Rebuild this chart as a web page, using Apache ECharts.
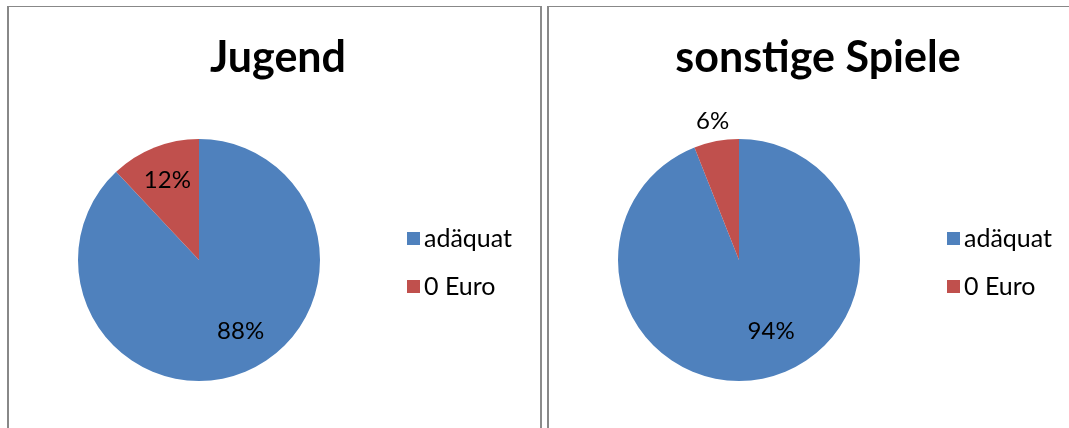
<!DOCTYPE html>
<html>
<head>
<meta charset="utf-8">
<script src="https://cdn.jsdelivr.net/npm/echarts@6/dist/echarts.min.js"></script>
<style>
  html, body { margin: 0; padding: 0; background: #fff; overflow: hidden; }
  #chart { position: absolute; left: 0; top: 0; width: 1069px; height: 428px; }
  .panel { position: absolute; top: 6px; height: 440px; border-top: 1px solid #888; border-left: 2px solid #888; box-sizing: border-box; }
</style>
</head>
<body>
<div class="panel" style="left:7px;width:535px;border-right:2px solid #8c8c8c;"></div>
<div class="panel" style="left:547px;width:540px;"></div>
<div id="chart"></div>
<script>
// Daten
const categories = ['adäquat', '0 Euro'];
const titles = ['Jugend', 'sonstige Spiele'];
const jugendValues = [88, 12];
const spieleValues = [94, 6];
const colors = ['#4F81BD', '#C0504D'];

const font = 'Lato, "Open Sans", sans-serif';

function mainPie(center, values) {
  return {
    type: 'pie',
    center: center,
    radius: 121,
    startAngle: 90,
    clockwise: true,
    silent: true,
    animation: false,
    label: { show: false },
    labelLine: { show: false },
    data: categories.map((c, i) => ({ name: c, value: values[i], itemStyle: { color: colors[i] } }))
  };
}

// unsichtbare Ringe nur fuer die Beschriftung
function labelPie(center, values, radius, showIdx, offsets) {
  return {
    type: 'pie',
    center: center,
    radius: radius,
    startAngle: 90,
    clockwise: true,
    silent: true,
    animation: false,
    z: 5,
    itemStyle: { color: 'rgba(0,0,0,0)' },
    labelLine: { show: false },
    label: {
      show: true,
      position: 'inside',
      formatter: '{c}%',
      color: '#000',
      fontFamily: font,
      fontSize: 24
    },
    data: categories.map((c, i) => ({
      name: c,
      value: values[i],
      label: { show: showIdx.indexOf(i) >= 0, offset: (offsets && offsets[i]) || [0, 0] }
    }))
  };
}

function legend(left) {
  return {
    orient: 'vertical',
    left: left,
    top: 221,
    itemWidth: 13,
    itemHeight: 13,
    itemGap: 23,
    icon: 'rect',
    selectedMode: false,
    textStyle: { fontFamily: font, fontSize: 25, color: '#000', padding: [0, 0, 0, -1] },
    data: categories.map((c, i) => ({ name: c, itemStyle: { color: colors[i] } }))
  };
}

const chart = echarts.init(document.getElementById('chart'));
chart.setOption({
  animation: false,
  title: [
    { text: titles[0], left: 273, top: 32, textAlign: 'center',
      textStyle: { fontFamily: font, fontSize: 43, fontWeight: 'bold', color: '#000' } },
    { text: titles[1], left: 813, top: 32, textAlign: 'center',
      textStyle: { fontFamily: font, fontSize: 43, fontWeight: 'bold', color: '#000' } }
  ],
  legend: [legend(402), legend(942)],
  series: [
    mainPie([199, 260], jugendValues),
    labelPie([199, 260], jugendValues, 166, [0, 1], [[10, -9], [0, 0]]),
    mainPie([739, 260], spieleValues),
    labelPie([739, 260], spieleValues, 166, [0], [[16, -13], [0, 0]]),
    labelPie([739, 260], spieleValues, 276, [1])
  ]
});
</script>
</body>
</html>
